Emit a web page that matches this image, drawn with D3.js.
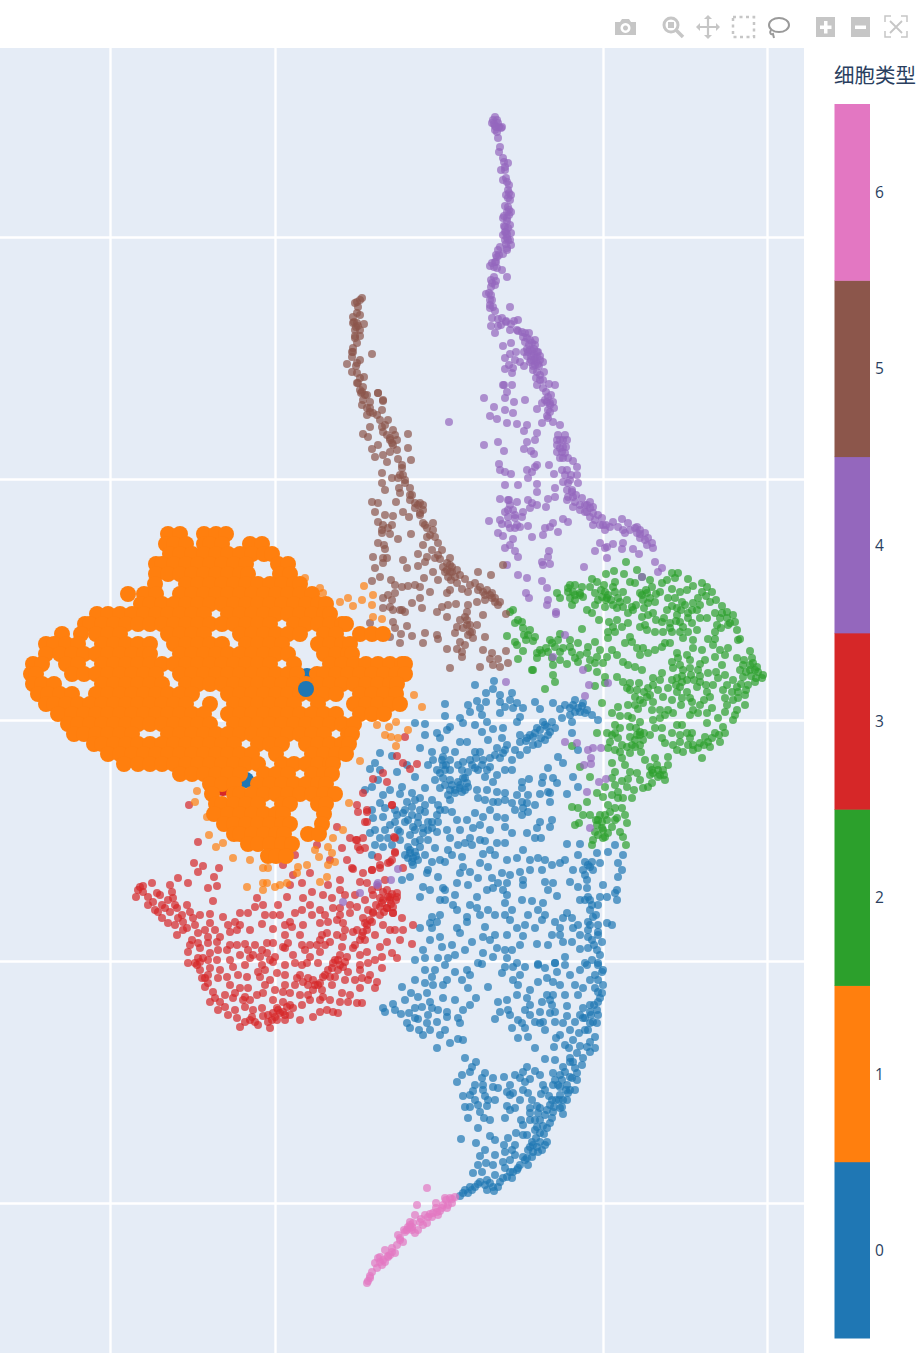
<!DOCTYPE html>
<html><head><meta charset="utf-8">
<script src="https://cdn.jsdelivr.net/npm/d3@7"></script>
<style>html,body{margin:0;padding:0;background:#fff}svg{display:block}</style>
</head><body><div id="chart"></div>
<script>
// Values: flat lists of umapX, umapY pairs per cell type.
const cellTypes = [0,1,2,3,4,5,6];
const typeColors = ["#1f77b4","#ff7f0e","#2ca02c","#d62728","#9467bd","#8c564b","#e377c2"];
const legendTitle = "细胞类型";
const xTicks = [110,275,603,767];
const yTicks = [237,479,720,961,1203];

const type4 = [495,117,493,120,497,120,494,124,498,123,496,127,499,127,502,127,495,130,497,132,498,138,500,147,499,152,503,158,504,162,508,163,505,167,501,170,505,170,506,178,503,180,507,182,509,185,508,190,509,193,506,195,511,195,508,198,505,206,508,207,507,212,504,216,509,210,507,218,511,212,507,221,510,225,504,226,509,215,503,218,505,232,503,235,508,228,507,238,511,233,508,240,506,244,511,245,505,227,507,234,505,240,507,248,503,254,500,247,498,250,496,255,507,250,497,257,495,262,492,263,494,267,490,266,497,268,502,270,507,277,494,277,492,283,491,280,496,281,495,285,491,287,489,293,486,294,491,295,492,300,490,305,493,307,490,308,495,311,510,307,492,318,502,318,498,319,506,321,511,324,514,321,518,320,498,326,501,325,491,326,495,333,510,330,506,322,518,331,522,332,529,333,523,337,527,338,530,340,525,342,532,343,535,345,529,345,534,349,527,349,532,351,537,352,524,352,527,356,503,346,511,343,505,358,510,354,516,352,509,365,515,360,513,368,505,369,512,373,504,385,512,385,520,362,530,362,535,358,533,366,537,357,536,362,540,356,534,360,535,365,539,366,533,370,537,372,536,378,540,375,524,366,544,372,543,380,537,385,549,384,543,388,546,392,547,402,551,395,545,400,550,405,554,408,548,410,547,416,555,385,
503,385,507,392,505,398,484,398,514,402,525,400,494,407,513,413,490,416,497,419,507,423,517,424,449,422,537,409,542,403,550,403,550,412,548,418,542,423,553,422,560,425,527,425,524,431,537,433,535,440,527,442,484,445,498,442,504,451,524,449,531,451,534,454,558,435,560,440,567,440,557,445,563,447,557,452,565,453,560,458,568,458,573,461,577,467,549,465,537,465,535,467,499,464,500,470,505,472,511,474,527,470,532,472,528,478,554,474,562,470,565,475,577,475,563,482,568,483,578,483,505,485,518,485,537,484,555,488,537,492,567,490,572,492,568,497,573,497,567,500,500,499,517,502,509,500,528,500,532,503,537,505,548,499,555,497,546,507,575,502,582,498,590,502,580,505,587,505,593,507,573,507,580,510,587,512,593,513,590,517,598,515,602,518,593,525,603,525,610,527,613,522,622,519,628,523,623,530,625,533,635,528,640,530,637,533,645,533,648,538,652,543,647,545,653,548,508,510,505,512,513,510,523,512,522,517,508,517,515,518,489,521,502,524,508,524,517,525,520,527,528,526,510,528,498,533,503,536,515,528,543,535,550,527,545,528,553,523,558,532,563,519,568,522,532,537,513,539,505,548,510,545,515,551,518,557,549,551,548,557,542,562,550,564,543,565,507,565,600,543,607,547,613,544,595,551,605,548,623,543,622,549,633,549,639,554,607,558,584,567,655,562,662,568,658,572,642,577,518,575,527,578,542,581,547,588,526,593,529,598,548,600,547,605,556,612,556,614,565,635,553,657,583,670,
589,685,608,683,585,696,506,682,565,742,577,743,588,750,593,748,601,748,591,758,584,765,591,764,599,782,606,779,587,792,590,828,398,869,391,880,377,885,343,902,378,883,360,893,
528,352,531,356,534,354,538,364,531,360,563,440,566,447,562,452,565,435,571,475,600,525,606,525,640,534,637,527,585,505,590,508,
492,123,495,126,501,128,510,200,506,232,510,240,499,255,496,262,490,300,517,330,525,333,530,350,535,340,540,360,543,362,538,352,540,380,548,397,553,402,557,440,560,448,563,458,567,470,570,480,572,490,576,495,585,512,595,520,605,530,618,527,630,530,640,538,645,540,505,410,510,505,515,515,500,520,508,500,530,508];

const type5 = [362,298,357,302,358,307,357,313,353,317,357,323,364,324,353,323,356,327,355,336,360,336,357,343,353,348,372,354,352,357,360,360,347,364,357,363,352,372,364,377,357,373,357,383,363,387,361,393,367,395,378,393,383,400,358,383,362,392,365,395,370,402,362,405,367,408,373,413,367,415,378,393,383,401,382,410,380,420,388,420,382,427,370,427,363,434,368,437,383,432,393,430,390,438,397,440,408,434,392,443,378,445,372,449,408,448,390,452,383,455,375,457,387,462,398,459,411,460,402,468,403,475,382,473,392,478,398,478,382,483,405,483,399,488,385,490,410,488,412,495,400,493,396,502,372,502,378,503,415,503,420,503,423,510,420,513,375,512,403,512,409,517,385,515,393,516,378,522,383,525,392,525,382,533,390,534,423,523,433,523,427,528,433,530,411,534,398,539,427,537,435,537,438,543,423,545,378,543,384,545,385,549,442,550,432,550,418,554,427,557,435,558,440,559,373,557,383,558,387,558,403,560,383,563,425,562,418,566,375,568,407,568,450,558,447,563,443,567,452,567,457,570,433,572,445,572,460,575,448,577,455,577,465,579,380,577,372,581,424,578,438,580,451,580,457,583,503,565,478,572,491,575,391,580,395,585,402,587,408,586,415,585,420,587,475,583,480,587,487,590,483,592,492,593,495,598,500,602,498,605,450,590,447,593,462,589,468,592,430,592,395,593,388,595,383,598,392,600,420,598,412,603,390,607,383,608,400,610,405,612,422,608,477,602,456,604,448,605,442,607,437,612,447,617,467,612,465,617,483,615,506,614,467,620,370,623,393,622,477,625,407,626,395,628,457,627,463,628,455,633,472,632,468,635,401,634,412,636,425,633,437,635,485,637,438,639,460,642,473,638,400,643,423,643,465,645,447,649,457,649,462,652,462,657,483,650,492,653,506,651,490,659,498,659,508,663,493,665,500,667,480,667,450,668,390,637,
355,303,360,300,354,322,358,326,355,338,352,352,360,390,370,412,450,565,452,572,485,600,490,595,495,602,400,475,410,500,418,505,423,505,390,440,395,435,470,632,467,625,
360,315,355,330,360,330,353,352,356,366,360,378,363,400,370,408,377,415,385,425,387,435,393,445,397,450,402,465,405,480,410,495,415,508,420,515,425,525,430,535,438,555,447,570,450,572,470,585,478,590,485,595,492,598,382,530,388,528,460,620,470,625,468,605,402,610,393,610];

const type2 = [626,562,614,571,606,574,624,574,637,570,642,577,592,579,597,582,615,582,630,582,635,583,650,580,672,573,678,573,667,580,675,578,688,579,662,583,702,583,693,586,707,587,712,592,702,592,570,585,575,585,582,587,590,587,605,592,613,587,623,592,640,593,647,593,652,587,672,589,680,592,687,590,557,593,568,592,573,592,580,593,595,593,608,595,615,592,560,598,570,598,575,600,583,597,602,597,618,598,627,600,643,600,648,603,655,602,675,598,682,602,693,603,700,605,710,602,572,605,595,605,605,607,613,605,623,607,632,607,677,608,685,605,697,610,587,610,592,613,628,613,633,610,667,610,677,615,722,613,727,612,715,613,642,617,648,615,653,613,688,613,700,618,707,618,720,618,727,618,513,610,510,612,599,620,617,620,609,622,628,623,645,625,662,622,670,623,680,622,692,623,730,623,518,620,522,622,515,623,613,627,622,627,640,627,670,628,683,627,717,625,737,630,523,628,530,630,582,629,608,632,615,632,647,630,655,632,663,632,672,632,680,632,688,632,697,630,715,632,560,634,507,636,528,635,535,637,608,638,630,637,683,638,693,640,740,639,708,639,715,639,550,640,515,642,533,641,595,642,625,643,632,642,665,643,670,643,713,645,552,643,555,647,517,645,570,647,578,643,563,648,588,647,637,648,643,648,662,647,693,648,702,650,523,651,537,653,542,653,548,652,560,652,572,652,587,653,640,655,648,653,655,650,750,651,677,653,687,655,725,655,552,658,575,658,597,657,607,657,617,655,678,658,690,660,715,657,737,658,518,659,537,658,553,665,567,664,578,662,595,663,603,663,623,662,628,665,672,662,680,665,722,665,700,664,743,665,753,663,757,667,532,670,533,670,588,668,597,672,635,667,642,670,673,668,683,670,740,670,750,670,758,672,662,673,653,678,553,675,605,677,617,677,700,676,708,673,718,678,743,677,762,678,755,682,748,685,555,682,623,682,630,683,660,680,677,678,687,680,639,683,595,686,545,689,605,683,653,685,680,687,697,687,713,685,727,685,737,687,637,690,677,692,687,692,707,692,723,690,627,688,732,692,745,695,635,697,647,697,650,695,682,698,690,698,710,697,725,698,738,698,643,703,653,702,700,705,602,703,618,707,628,705,745,705,727,705,638,709,652,710,660,710,668,710,693,710,707,713,698,713,737,710,612,713,620,716,673,713,665,715,733,720,632,718,653,720,660,718,677,725,682,725,615,725,640,722,707,723,630,727,723,727,597,733,607,733,655,728,687,733,692,733,715,733,705,737,637,735,630,737,615,733,662,738,643,740,690,738,610,742,665,743,673,745,680,742,710,747,700,743,720,742,635,747,627,747,572,746,608,748,620,752,683,752,677,750,693,750,630,753,668,757,655,758,702,758,622,758,612,763,615,772,580,767,650,767,657,765,663,770,630,772,637,773,653,773,658,777,665,780,640,780,652,783,590,777,612,778,605,787,643,788,648,787,597,793,603,797,618,792,627,787,618,798,623,798,632,798,587,802,572,807,578,808,615,808,622,808,608,805,625,815,605,815,583,815,590,815,617,818,602,822,607,820,575,825,579,823,597,825,627,823,620,832,602,828,595,832,608,833,623,837,593,840,605,837,592,845,626,845,
580,595,568,588,575,595,640,745,635,740,640,735,708,742,615,820,603,830,598,820,763,675,755,670,750,665,652,770,660,775,
601,590,607,598,611,600,620,602,617,608,606,600,598,600,604,585,642,595,650,598,636,605,644,608,656,594,646,590,660,592,668,598,672,606,681,610,688,618,676,621,664,618,656,620,692,610,698,598,706,596,716,600,722,606,733,615,728,625,721,628,735,622,738,640,728,648,720,650,705,660,698,670,690,668,682,676,672,680,668,688,676,685,682,682,691,675,694,680,700,682,706,685,716,672,725,675,733,680,741,684,746,672,751,676,756,678,744,660,752,658,746,690,738,692,733,700,735,715,725,712,718,718,712,708,704,700,692,702,681,705,672,700,663,697,658,690,648,688,644,692,635,705,628,716,620,728,612,735,636,728,640,732,632,745,641,752,645,760,650,775,658,770,664,775,668,765,615,750,622,745,618,738,625,765,615,785,612,795,622,781,628,779,634,790,610,812,600,815,612,827,598,835,603,838,596,820,693,745,688,745,698,748,704,745,712,738,719,735,725,733,690,715,680,735,672,733,662,728,650,735,644,733,640,700,630,690,600,650,612,650,570,640,558,640,546,648,540,650,526,640,524,635,560,660,580,655,590,660];

const type0 = [475,685,494,681,493,689,486,693,512,693,500,695,477,701,486,702,500,702,510,700,517,703,535,702,445,704,468,705,480,708,505,707,513,708,523,708,540,709,553,703,560,709,573,705,583,703,587,710,445,716,470,712,460,718,482,715,500,713,520,717,570,715,580,712,592,715,562,718,572,722,598,720,543,722,425,724,415,723,463,723,475,725,487,722,517,722,503,728,482,732,493,729,537,728,547,727,550,732,450,727,437,733,447,730,572,733,425,735,488,740,502,738,527,738,520,742,533,737,420,748,440,738,432,752,460,742,467,742,497,748,507,745,515,750,538,744,578,750,445,750,455,752,475,752,503,753,380,753,443,757,490,758,500,758,558,757,392,756,375,763,483,760,463,762,472,765,482,765,443,765,563,763,370,769,380,770,407,765,490,767,450,770,440,773,478,770,512,770,548,768,397,772,485,777,443,778,543,777,553,778,573,777,415,777,378,780,542,783,493,782,522,782,529,779,465,778,460,785,468,787,557,783,372,787,402,787,425,788,455,790,462,792,440,788,578,787,522,788,548,792,487,790,497,792,505,793,517,795,528,795,400,794,412,793,540,794,550,793,567,794,450,800,420,798,478,798,493,802,498,802,522,802,527,803,380,803,407,802,550,802,385,808,395,810,412,807,438,805,523,808,425,812,445,810,475,813,490,810,373,818,383,817,403,813,418,817,437,815,452,812,483,817,497,817,522,815,395,822,405,822,428,822,438,822,457,820,467,820,505,818,540,822,552,820,390,825,413,827,432,828,473,828,447,830,505,827,537,828,550,827,370,833,400,832,423,833,437,832,512,833,527,833,450,838,380,838,388,838,375,845,480,840,485,841,535,838,541,838,465,843,472,845,497,843,505,843,567,844,580,844,383,847,408,847,420,847,435,848,490,850,615,845,608,852,623,855,372,855,410,853,448,850,462,857,483,854,495,855,523,850,578,855,597,853,413,858,418,860,452,855,507,860,517,858,538,858,560,863,585,862,592,862,600,863,413,865,463,867,480,863,488,867,618,863,590,867,565,860,573,870,583,870,622,870,428,870,460,873,470,872,520,872,542,870,402,880,410,877,427,873,438,877,502,873,618,877,457,883,523,880,507,883,498,883,545,882,553,883,570,882,587,880,603,885,617,890,423,887,443,888,487,890,503,890,523,885,548,890,578,887,587,888,430,890,477,897,493,888,507,895,588,897,615,893,420,897,557,896,600,897,607,897,617,900,440,900,445,900,522,900,532,901,543,903,585,900,453,905,477,908,505,903,457,910,488,910,538,910,567,913,590,910,593,917,505,915,563,918,572,918,432,917,440,915,467,917,510,920,555,922,430,923,437,922,467,922,588,922,598,925,607,923,612,925,420,928,457,928,485,927,517,928,535,928,542,920,560,928,588,930,432,928,460,933,483,937,495,935,507,935,523,936,560,935,588,937,598,932,430,940,440,937,472,942,490,940,537,944,563,942,572,942,592,940,602,942,452,945,442,947,423,950,580,949,588,948,597,950,483,953,505,950,493,957,478,963,425,958,438,958,507,958,565,957,585,963,538,964,555,963,598,965,517,963,
482,964,505,967,538,965,555,963,565,965,587,965,598,963,467,970,513,967,435,970,580,970,603,970,557,972,502,973,432,977,470,975,547,978,595,975,415,980,425,983,447,980,462,980,513,980,553,982,538,982,590,980,603,985,402,987,433,985,443,985,488,987,518,985,468,988,530,990,583,988,598,992,411,993,427,993,418,997,443,998,476,998,517,995,547,995,553,995,578,995,602,993,498,1002,507,1000,542,1002,527,998,430,1002,393,1004,383,1008,385,1012,422,1007,415,1008,552,1005,567,1006,590,1005,598,1002,583,1008,508,1010,525,1010,530,1005,432,1008,463,1010,447,1012,401,1014,409,1013,428,1015,550,1013,567,1016,555,1012,580,1015,598,1015,447,1017,458,1018,495,1019,518,1020,418,1019,407,1023,427,1023,437,1022,460,1023,543,1022,540,1023,555,1022,563,1023,575,1022,593,1022,590,1023,597,1023,522,1023,512,1028,525,1028,410,1028,445,1030,419,1030,423,1035,579,1033,595,1037,528,1037,518,1038,556,1038,458,1039,463,1040,450,1043,573,1040,590,1042,437,1048,535,1048,554,1047,569,1048,587,1047,595,1048,577,1053,570,1058,465,1058,476,1062,545,1059,583,1058,472,1067,582,1065,563,1067,573,1062,527,1067,535,1071,470,1072,462,1075,553,1073,560,1075,577,1073,485,1073,493,1078,504,1077,515,1075,520,1078,530,1079,570,1077,482,1078,457,1082,525,1082,475,1085,483,1085,543,1085,553,1085,567,1085,577,1080,493,1087,498,1088,473,1091,560,1087,570,1090,483,1090,507,1092,513,1093,528,1093,541,1094,549,1096,568,1093,463,1096,485,1096,510,1095,488,1100,475,1100,532,1100,559,1100,567,1100,465,1107,470,1107,487,1106,507,1106,510,1110,530,1108,537,1106,547,1110,554,1107,562,1107,538,1113,530,1113,553,1112,563,1114,468,1118,484,1118,521,1120,523,1125,550,1123,543,1126,478,1128,537,1127,547,1128,535,1130,527,1135,516,1133,540,1133,490,1136,508,1138,461,1139,495,1140,476,1143,532,1142,540,1142,547,1142,504,1145,530,1147,537,1147,545,1145,512,1150,542,1150,533,1152,523,1157,527,1158,480,1156,532,1157,503,1162,486,1163,478,1165,493,1165,510,1160,520,1165,528,1165,505,1168,517,1170,513,1172,482,1172,473,1173,495,1175,507,1177,512,1178,487,1180,480,1182,475,1187,493,1187,498,1187,470,1187,465,1190,487,1190,463,1193,460,1196,494,1191,
530,735,535,733,540,730,545,725,552,722,548,735,526,741,520,735,578,708,582,706,575,712,585,713,452,785,458,782,463,778,467,783,460,788,455,793,450,790,465,790,442,760,446,765,450,760,445,770,412,815,418,823,423,828,428,830,432,822,420,810,415,830,410,850,415,852,408,858,412,862,416,856,405,855,480,752,495,755,505,750,592,905,596,915,590,925,598,935,594,945,600,955,592,960,602,972,598,980,595,988,600,998,594,1005,590,1012,597,1010,585,1018,588,1030,583,1018,591,1015,570,1062,575,1068,565,1072,572,1078,562,1080,566,1090,560,1095,556,1100,550,1105,560,1108,545,1115,540,1120,552,1118,544,1134,536,1138,533,1145,528,1150,538,1152,525,1160,518,1168,510,1172,503,1178,500,1182,490,1183,485,1185,478,1184,472,1190,468,1193,588,865,585,875,593,870,
470,760,476,758,462,770,458,765,468,772,475,768,487,770,497,775,505,770,512,760,520,755,527,750,533,745,541,738,545,740,555,728,565,705,570,708,575,700,433,760,428,765,437,770,435,780,445,785,450,780,448,795,440,810,432,800,425,805,415,800,405,810,397,815,408,820,398,830,410,835,420,840,428,840,415,842,392,845,400,840,385,830,375,830,372,810,383,795,390,790,365,790,477,790,485,800,505,800,512,803,515,810,528,812,535,805,480,825,490,830,460,830,470,838,458,845,440,860,445,862,432,862,425,855,530,860,530,870,545,860,552,865,510,875,492,878,478,878,468,885,455,895,445,890,470,905,480,915,495,915,512,910,528,915,525,925,545,915,580,900,590,900,598,905,578,925,580,935,573,928,552,935,548,945,520,945,512,950,497,948,465,950,455,955,448,958,415,960,425,970,445,965,455,972,520,975,525,967,545,968,570,975,575,985,565,995,560,985,550,1000,540,1012,530,1015,510,1015,500,1012,470,1005,455,1000,438,1010,405,1000,395,1010,415,1018,430,1030,440,1035,545,1030,535,1022,560,1035,570,1030,585,1030,590,1052,580,1046,565,1045,555,1060,540,1075,523,1072,510,1085,495,1100,478,1105,470,1095,480,1112,490,1120,505,1118,515,1108,520,1100,523,1090,545,1090,558,1085,575,1090,563,1100,552,1100,540,1108,530,1120,523,1135,515,1145,505,1152,495,1155,485,1150,515,1155,535,1120,555,1080];

const type3 = [189,805,198,842,194,863,203,866,198,872,219,868,178,878,188,883,214,877,217,886,208,888,140,887,152,883,143,892,136,897,148,897,157,893,153,902,172,892,173,898,162,905,213,901,165,908,158,912,187,905,177,908,162,918,178,918,190,912,200,915,210,914,168,923,183,922,193,918,210,923,223,917,235,922,240,913,248,913,257,898,255,907,263,905,278,905,273,915,295,913,290,922,262,924,237,930,230,932,187,928,177,935,198,933,192,940,208,937,220,937,273,929,285,935,292,927,303,925,320,923,328,922,322,935,302,910,312,915,320,910,333,908,340,908,287,897,303,898,312,892,323,895,332,898,340,880,352,868,347,860,342,848,357,840,360,850,350,838,337,827,357,805,367,812,367,822,395,838,392,805,310,873,302,883,293,875,290,885,283,865,295,855,317,845,330,860,345,895,360,882,367,883,372,870,380,868,390,862,395,852,378,887,387,890,397,893,390,900,383,900,393,907,380,907,387,908,373,912,368,910,393,913,380,915,357,907,350,913,363,918,372,922,343,923,337,920,367,925,402,918,413,925,383,925,390,930,403,930,353,932,363,932,327,933,337,935,343,937,360,940,400,940,412,944,387,942,380,947,320,940,330,942,317,945,342,947,353,948,392,953,397,958,382,957,367,952,340,955,347,957,320,952,310,957,333,963,338,960,343,967,328,970,338,970,348,972,368,963,360,965,382,968,318,963,295,963,302,965,307,963,285,965,323,977,330,977,355,980,362,978,368,980,377,982,297,978,303,982,308,985,320,983,313,990,360,988,375,988,323,997,308,995,342,993,340,1002,348,1002,357,1003,362,1003,302,1005,327,1010,320,1012,333,1012,338,1013,313,1017,300,1020,
198,943,208,943,217,942,230,945,245,944,237,945,267,943,273,943,283,947,288,943,302,945,188,952,200,948,218,950,227,950,210,953,267,953,275,957,285,948,240,955,253,955,260,957,188,963,195,963,217,960,230,960,273,962,200,970,210,968,220,970,233,967,265,970,258,972,277,973,202,978,218,978,227,977,247,977,260,977,205,987,213,992,240,988,248,988,235,993,263,993,257,995,275,990,283,992,290,993,210,1002,220,1002,233,998,245,997,273,1000,283,1002,225,1007,218,1010,235,1010,245,1007,253,1010,277,1008,287,1007,293,1008,228,1015,237,1018,252,1017,263,1016,273,1013,280,1013,290,1015,245,1022,255,1022,240,1027,258,1025,270,1028,277,1020,285,1020,
397,756,403,763,417,764,410,769,383,773,373,779,387,782,363,793,392,805,358,812,367,810,365,822,356,840,363,838,358,847,365,848,394,837,378,857,395,853,392,860,388,863,380,865,363,873,372,870,353,869,403,868,405,737,390,897,397,897,382,903,387,908,373,913,370,920,393,913,365,923,
376,905,384,912,391,904,396,900,388,897,383,892,392,894,357,930,362,936,367,930,335,960,340,965,345,962,332,968,325,975,318,985,313,980,308,978,335,977,315,985,322,990,278,1010,283,1012,285,1015,272,1020,268,1022,275,1017,200,962,203,958,208,960,197,965,205,978,208,983,148,905,155,910,143,886,138,890,
170,885,160,895,168,900,175,905,182,915,195,925,205,930,215,930,228,925,240,925,250,930,255,945,262,950,250,958,245,965,238,975,230,985,225,995,215,998,243,1000,250,1000,265,985,270,980,285,985,295,985,300,995,310,1000,330,1000,350,995,370,975,375,960,360,955,355,945,345,930,325,945,310,945,300,935,285,925,280,915,265,915,310,905,328,885,340,890,355,895,365,900,373,895,380,898,385,880,372,890,350,905,340,915,325,915,305,950,293,955,285,975,270,960,262,965,248,950,208,975,198,958,190,945,183,930,175,925,170,912,300,975,290,1005,262,1008,250,1020,268,1015,365,940,375,935,395,930,360,970,345,980,332,985,320,1000];

const type6 = [427,1188,417,1205,436,1203,445,1198,450,1198,455,1197,448,1205,452,1203,442,1208,447,1208,433,1213,438,1215,428,1217,415,1215,427,1223,413,1223,408,1227,418,1230,415,1233,405,1232,398,1235,403,1242,397,1245,392,1252,385,1250,395,1253,378,1258,385,1262,382,1265,377,1268,372,1272,370,1278,367,1283,368,1281,412,1227,412,1230,423,1225,432,1217,407,1230,388,1257,383,1260,421,1219,440,1211,410,1222,400,1240,390,1255,375,1263,430,1214,436,1208,446,1200,452,1199,404,1230,410,1228,388,1256,380,1262,370,1276,380,1257,392,1248,400,1238,410,1225,420,1222,425,1215,437,1212,443,1205];

const type1small = [305,578,320,588,323,593,364,586,373,595,348,598,340,602,362,600,353,606,372,605,373,617,382,619,414,695,422,707,396,722,377,725,389,727,408,730,385,735,391,737,398,738,396,746,360,761,197,791,195,802,207,817,209,835,223,843,216,847,233,858,250,860,263,868,268,868,349,803,343,830,333,838,328,847,332,853,319,857,328,865,335,862,298,867,297,873,307,865,315,850,327,877,320,882,287,883,280,885,275,887,263,883,267,883,247,887,263,890];

// large markers of other types, partly hidden by the large orange cloud
const type0large = [307,676,246,780,334,718];
const type3large = [223,788];
const type0largeTop = [306,689];

// large cell-type-1 markers: each row is umapY followed by the umapX values of that row
const type1large = [
[534,168,180,204,216,226],
[544,166,174,186,204,210,222,250,262],
[554,170,180,192,204,216,228,240,252,264,272],
[564,156,162,174,186,198,210,222,234,246,278,288],
[574,156,168,180,192,204,216,228,240,248,280,290],
[584,155,186,198,210,222,234,246,258,270,282,294,300],
[594,128,144,156,180,192,204,216,228,240,252,264,276,288,300,312],
[604,141,150,162,174,186,198,210,222,234,246,258,270,282,294,306,318,326],
[614,97,108,120,132,144,156,168,180,192,204,228,240,252,264,276,288,300,312,324,330],
[624,85,90,102,114,126,138,150,162,174,186,198,210,222,234,246,258,270,294,306,318,330,342,346],
[634,62,81,96,108,120,168,180,192,204,240,252,264,276,288,300,324,336,360,372,383],
[644,46,54,66,78,102,114,126,138,150,174,186,198,210,222,246,258,270,282,318,330,342,350],
[654,46,60,72,84,96,108,120,132,144,150,180,192,204,216,228,240,252,264,276,288,324,336,348,352],
[664,33,42,66,78,102,114,126,138,150,162,174,186,198,210,222,234,246,258,270,294,330,342,354,366,378,390,402,405],
[674,31,36,72,84,96,108,120,132,144,156,180,192,204,216,228,240,252,264,276,288,297,317,324,336,348,360,372,384,396,405],
[684,33,42,54,102,114,126,138,150,162,186,198,210,222,234,246,258,270,282,294,306,318,330,342,354,366,378,390,397],
[694,38,48,60,72,96,108,120,132,144,156,168,180,192,228,240,252,264,276,288,300,312,324,336,360,372,384,396],
[704,46,54,66,78,90,102,114,126,138,150,162,174,186,210,234,246,258,270,282,294,318,354,366,378,390,400],
[714,58,72,84,96,108,120,132,144,156,168,180,192,204,228,240,252,264,276,288,300,312,324,336,360,372,384],
[724,68,78,90,102,114,126,138,150,162,174,186,198,210,234,246,258,270,282,294,306,318,330,342,354],
[734,74,84,96,108,120,132,168,180,192,204,216,228,240,252,264,276,288,300,312,324,348,352],
[744,94,102,114,126,138,150,162,174,186,198,210,222,234,258,270,282,306,318,330,342,349],
[754,108,120,132,144,156,168,180,192,204,216,228,240,252,276,312,324,336,346],
[764,124,138,150,162,174,186,198,210,222,234,246,258,282,294,306,318,330,333],
[774,180,192,204,216,228,240,264,276,288,312,324,332],
[784,210,222,234,258,270,282,294,306,318,326],
[794,212,234,240,252,264,276,288,300,312,324,335],
[804,216,222,234,246,258,282,290,318,326],
[814,214,228,240,252,264,276,283,324],
[824,224,234,246,258,270,282,290,322],
[834,234,240,252,264,276,284,308,319],
[844,248,258,270,282,292],
[856,268,276,286]
];

const W = 921, H = 1353, plot = {left:0, top:48, width:804, height:1305};
const smallR = 4, largeR = 8;
const svg = d3.select("#chart").append("svg").attr("width",W).attr("height",H)
  .style("font-family","'Open Sans','Noto Sans',sans-serif");

const pairs = flat => d3.range(0, flat.length, 2).map(i => [flat[i], flat[i+1]]);
const x = d3.scaleLinear().domain([0,804]).range([0,plot.width]);
const y = d3.scaleLinear().domain([48,1353]).range([0,plot.height]);
const color = d3.scaleOrdinal(cellTypes, typeColors);

const g = svg.append("g").attr("transform",`translate(${plot.left},${plot.top})`);
g.append("rect").attr("width",plot.width).attr("height",plot.height).attr("fill","#e5ecf6");

const gridX = g.append("g").attr("transform",`translate(0,${plot.height})`)
  .call(d3.axisBottom(x).tickValues(xTicks).tickSize(-plot.height).tickFormat(""));
const gridY = g.append("g").call(d3.axisLeft(y).tickValues(yTicks).tickSize(-plot.width).tickFormat(""));
[gridX,gridY].forEach(a => { a.select(".domain").remove(); a.selectAll("line").attr("stroke","#fff").attr("stroke-width",2.4); });

function draw(list, type, r, op){
  g.append("g").attr("fill",color(type)).attr("fill-opacity",op)
    .selectAll("circle").data(list).join("circle")
    .attr("cx",d=>x(d[0])).attr("cy",d=>y(d[1])).attr("r",r);
}
draw(pairs(type0),0,smallR,.7);
draw(pairs(type2),2,smallR,.7);
draw(pairs(type3),3,smallR,.7);
draw(pairs(type4),4,smallR,.7);
draw(pairs(type5),5,smallR,.7);
draw(pairs(type6),6,smallR,.7);
draw(pairs(type1small),1,smallR,.7);
draw(pairs(type0large),0,largeR,1);
draw(pairs(type3large),3,largeR,1);
draw(type1large.flatMap(r => r.slice(1).map(v => [v, r[0]])),1,largeR,1);
draw(pairs(type0largeTop),0,largeR,1);

// colour bar
const barY = d3.scaleBand().domain(cellTypes.slice().reverse()).range([104,1338]);
const bar = svg.append("g");
bar.selectAll("rect").data(cellTypes).join("rect")
  .attr("x",834.5).attr("width",35.5).attr("y",d=>barY(d)).attr("height",barY.bandwidth()+.5).attr("fill",d=>color(d));
const barAxis = bar.append("g").attr("transform","translate(870,1)")
  .call(d3.axisRight(barY).tickSize(0).tickPadding(5));
barAxis.select(".domain").remove();
barAxis.selectAll("text").attr("fill","#2a3f5f").style("font-size","15.5px").style("font-family","'Open Sans',sans-serif");
svg.append("text").attr("x",834).attr("y",83).text(legendTitle).attr("fill","#2a3f5f")
  .style("font-size","20.5px").style("font-family","'Noto Sans CJK SC'");

// mode bar
const tb = svg.append("g").attr("fill","#c6c6c6").attr("stroke","none");
tb.append("path").attr("d","M615 22h5l2-3h7l2 3h5v13h-21z M625.5 23a5 5 0 1 0 .01 0z M625.5 25.5a2.5 2.5 0 1 1-.01 0z").attr("fill-rule","evenodd");
const ln = tb.append("g").attr("fill","none").attr("stroke","#c6c6c6");
ln.append("circle").attr("cx",671).attr("cy",25).attr("r",7).attr("stroke-width",3);
ln.append("path").attr("d","M676 30l7 7").attr("stroke-width",3.5);
tb.append("rect").attr("x",668).attr("y",22).attr("width",6).attr("height",6);
ln.append("path").attr("d","M708 18v18M699 27h18").attr("stroke-width",2.2);
tb.append("path").attr("d","M708 15l4 4h-8zM708 39l4-4h-8zM696 27l4-4v8zM720 27l-4-4v8z");
ln.append("rect").attr("x",733).attr("y",17).attr("width",21).attr("height",20).attr("stroke-width",2.5).attr("stroke-dasharray","3 3.5");
ln.append("ellipse").attr("cx",779).attr("cy",25).attr("rx",10).attr("ry",7).attr("stroke","#9a9a9a").attr("stroke-width",2);
ln.append("path").attr("d","M771 30c-2 3 0 5 2 4l1 4").attr("stroke","#9a9a9a").attr("stroke-width",2);
tb.append("path").attr("fill-rule","evenodd").attr("d","M816 17h19v20h-19z M824 21v4.5h-4v3.5h4v4.5h3.5v-4.5h4v-3.5h-4v-4.5z");
tb.append("path").attr("fill-rule","evenodd").attr("d","M851 17h19v20h-19z M855 25.5v3.5h11v-3.5z");
ln.append("path").attr("d","M885 22v-6h6M901 16h6v6M907 31v6h-6M891 37h-6v-6").attr("stroke-width",1.5);
ln.append("path").attr("d","M890 21l12 12M902 21l-12 12").attr("stroke-width",1.8);
</script></body></html>
